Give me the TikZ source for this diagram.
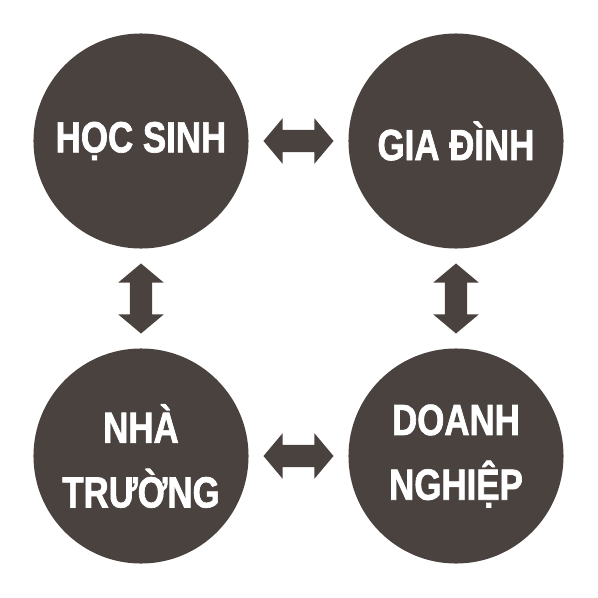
\documentclass[tikz,border=0pt]{standalone}
\usepackage{fontspec}
\newfontfamily\circlefont[FakeStretch=0.8, BoldFeatures={FakeBold=1.5}]{Liberation Sans}
\usetikzlibrary{shapes.arrows,calc}
\definecolor{darkbrown}{RGB}{74,66,63}

\begin{document}
\begin{tikzpicture}[
    x=0.025cm, y=-0.025cm,
    party/.style={circle, fill=darkbrown, minimum size=5.375cm, inner sep=0pt, text=white, align=center, font=\circlefont\bfseries\fontsize{31}{46}\selectfont},
    link/.style={double arrow, fill=darkbrown, minimum height=1.75cm, inner xsep=0pt, inner ysep=0.27cm, double arrow head extend=0.29cm, double arrow tip angle=100}
]
\useasboundingbox (0,0) rectangle (598,598);

% Circles
\node[party] (hocsinh) at (141,141) {HỌC SINH};
\node[party] (giadinh) at (456,141) {GIA ĐÌNH};
\node[party] (nhatruong) at (141,456) {NHÀ\\TRƯỜNG};
\node[party] (doanhnghiep) at (456,456) {DOANH\\NGHIỆP};

% Two-way arrows
\node[link] (top) at ($(hocsinh)!0.5!(giadinh)$) {};
\node[link] (bottom) at ($(nhatruong)!0.5!(doanhnghiep)$) {};
\node[link, rotate=90] (left) at ($(hocsinh)!0.5!(nhatruong)$) {};
\node[link, rotate=90] (right) at ($(giadinh)!0.5!(doanhnghiep)$) {};

\end{tikzpicture}
\end{document}
